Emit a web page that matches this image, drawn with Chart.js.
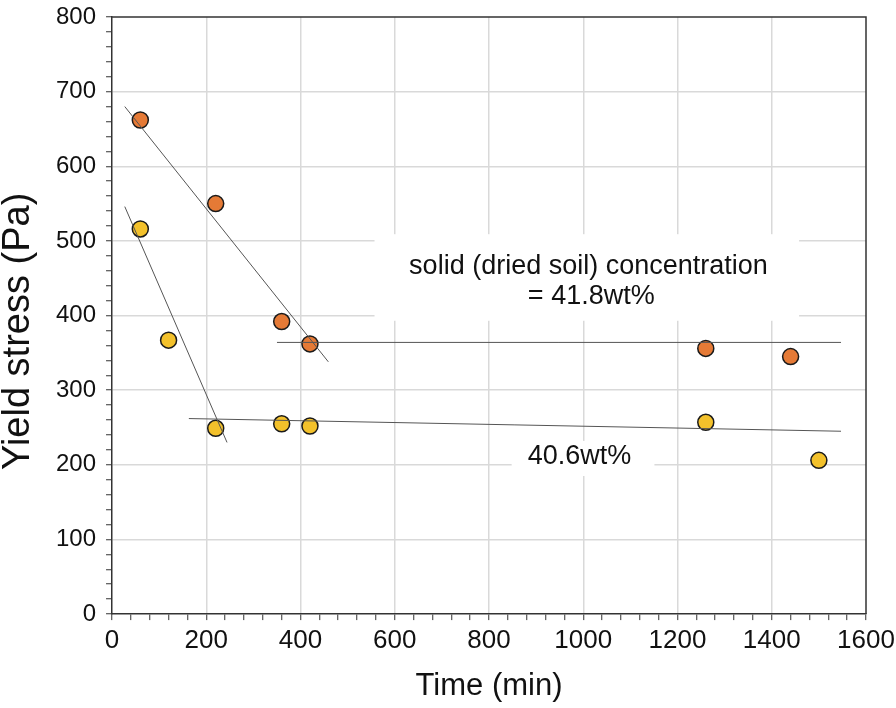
<!DOCTYPE html>
<html>
<head>
<meta charset="utf-8">
<title>Yield stress vs time</title>
<script src="https://cdn.jsdelivr.net/npm/chart.js@4.4.1/dist/chart.umd.min.js"></script>
<style>
  html, body { margin: 0; padding: 0; background: #fff; }
  #wrap { width: 896px; height: 708px; }
</style>
</head>
<body>
<div id="wrap"><canvas id="yieldChart" width="896" height="708"></canvas></div>
<script>
// === data ===
const timeHigh   = [60, 220, 360, 420, 1260, 1440];        // 41.8wt%
const stressHigh = [662, 550, 392, 362, 356, 345];
const timeLow    = [60, 120, 220, 360, 420, 1260, 1500];   // 40.6wt%
const stressLow  = [516, 367, 249, 255, 252, 257, 206];

// hand-drawn trend lines (end points)
const fitHighSteepX = [27, 459],  fitHighSteepY = [680, 338];
const fitHighFlatX  = [350, 1547], fitHighFlatY = [364, 364];
const fitLowSteepX  = [27, 244],  fitLowSteepY  = [546, 230];
const fitLowFlatX   = [163, 1547], fitLowFlatY  = [262, 245];

const xTicks = [0, 200, 400, 600, 800, 1000, 1200, 1400, 1600];
const yTicks = [0, 100, 200, 300, 400, 500, 600, 700, 800];

const pts = (xs, ys) => xs.map((v, i) => ({ x: v, y: ys[i] }));

const FONT = "'Liberation Sans', Arial, sans-serif";

const fitLine = (xs, ys) => ({
  type: 'line',
  data: pts(xs, ys),
  borderColor: '#555',
  borderWidth: 1,
  pointRadius: 0,
  fill: false,
  order: 0
});

// white label boxes + text, in data units
const notes = {
  id: 'notes',
  beforeDatasetsDraw(chart) {
    const { ctx, scales: { x, y }, chartArea: a } = chart;
    ctx.save();
    ctx.fillStyle = '#fff';
    const box = (x0, x1, y0, y1) => {
      const px0 = x.getPixelForValue(x0), px1 = x.getPixelForValue(x1);
      const py0 = y.getPixelForValue(y1), py1 = y.getPixelForValue(y0);
      ctx.fillRect(px0, py0, px1 - px0, py1 - py0);
    };
    box(557, 1458, 393, 509);
    box(848, 1151, 185, 232);

    ctx.fillStyle = '#111';
    ctx.font = '27px ' + FONT;
    ctx.textAlign = 'center';
    ctx.textBaseline = 'alphabetic';
    ctx.fillText('solid (dried soil) concentration', x.getPixelForValue(1011), y.getPixelForValue(455));
    ctx.fillText('= 41.8wt%', x.getPixelForValue(1017), y.getPixelForValue(415));
    ctx.fillText('40.6wt%', x.getPixelForValue(992), y.getPixelForValue(201));

    // top and right frame
    ctx.strokeStyle = '#333';
    ctx.lineWidth = 1.5;
    ctx.beginPath();
    ctx.moveTo(a.left, a.top);
    ctx.lineTo(a.right, a.top);
    ctx.lineTo(a.right, a.bottom);
    ctx.stroke();
    ctx.restore();
  }
};

const ctx = document.getElementById('yieldChart').getContext('2d');

new Chart(ctx, {
  type: 'scatter',
  data: {
    datasets: [
      fitLine(fitHighSteepX, fitHighSteepY),
      fitLine(fitHighFlatX, fitHighFlatY),
      fitLine(fitLowSteepX, fitLowSteepY),
      fitLine(fitLowFlatX, fitLowFlatY),
      {
        label: '41.8wt%',
        data: pts(timeHigh, stressHigh),
        backgroundColor: '#E57A36',
        borderColor: '#1a1a1a',
        borderWidth: 1.5,
        pointRadius: 8,
        order: 1
      },
      {
        label: '40.6wt%',
        data: pts(timeLow, stressLow),
        backgroundColor: '#F3C12B',
        borderColor: '#1a1a1a',
        borderWidth: 1.5,
        pointRadius: 8,
        order: 1
      }
    ]
  },
  options: {
    responsive: false,
    devicePixelRatio: 1,
    animation: false,
    layout: { padding: { top: 17, right: 30, bottom: 0, left: 0 } },
    plugins: {
      legend: { display: false },
      tooltip: { enabled: false }
    },
    scales: {
      x: {
        type: 'linear',
        min: 0, max: 1600,
        afterFit: s => { s.paddingLeft = 0; s.paddingRight = 0; },
        border: { color: '#333', width: 1.5 },
        grid: {
          color: c => (xTicks.includes(c.tick.value) && c.tick.value !== 0 && c.tick.value !== 1600) ? '#d9d9d9' : 'rgba(0,0,0,0)',
          lineWidth: 1.5,
          tickColor: '#333',
          tickWidth: 1,
          tickLength: 6
        },
        ticks: {
          stepSize: 40,
          autoSkip: false,
          maxRotation: 0,
          padding: 5,
          color: '#111',
          font: { family: FONT, size: 26 },
          callback: v => xTicks.includes(v) ? String(v) : ''
        },
        title: {
          display: true,
          text: 'Time (min)',
          color: '#111',
          font: { family: FONT, size: 31, lineHeight: 1.2 },
          padding: { top: 6.5, bottom: 3 }
        }
      },
      y: {
        type: 'linear',
        min: 0, max: 800,
        afterFit: s => { s.paddingTop = 0; s.paddingBottom = 0; },
        border: { color: '#333', width: 1.5 },
        grid: {
          color: c => (yTicks.includes(c.tick.value) && c.tick.value !== 0 && c.tick.value !== 800) ? '#d9d9d9' : 'rgba(0,0,0,0)',
          lineWidth: 1.5,
          tickColor: '#333',
          tickWidth: 1,
          tickLength: 6
        },
        ticks: {
          stepSize: 20,
          autoSkip: false,
          padding: 10,
          color: '#111',
          font: { family: FONT, size: 24 },
          callback: v => yTicks.includes(v) ? String(v) : ''
        },
        title: {
          display: true,
          text: 'Yield stress (Pa)   ',
          color: '#111',
          font: { family: FONT, size: 38, lineHeight: 1 },
          padding: { top: 0, bottom: 8 }
        }
      }
    }
  },
  plugins: [notes]
});
</script>
</body>
</html>
